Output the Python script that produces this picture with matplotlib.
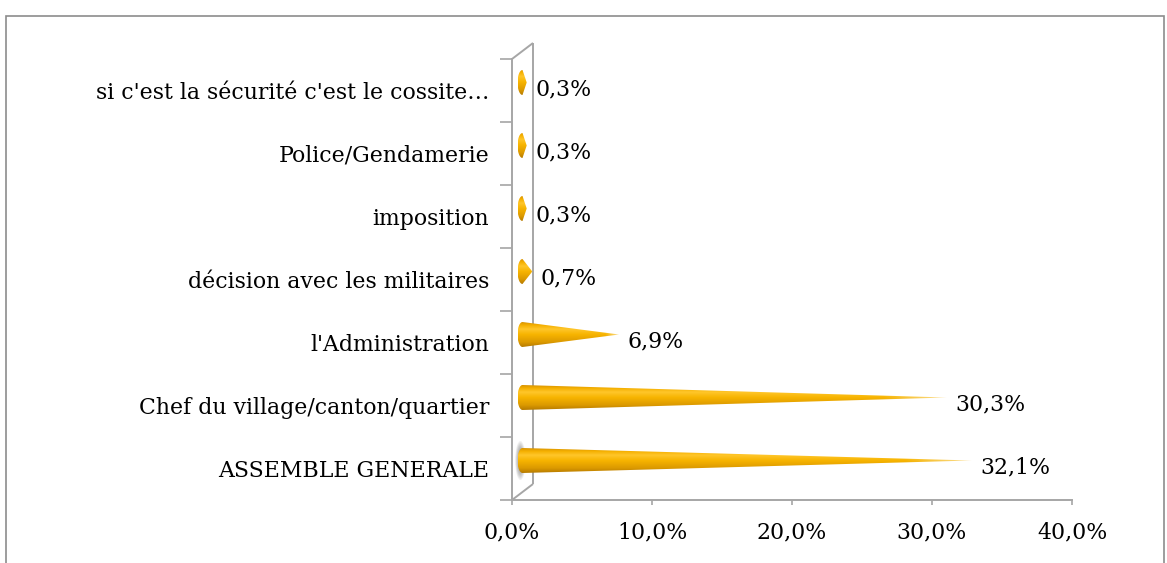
import numpy as np
import matplotlib.pyplot as plt
from matplotlib.patches import Polygon, Rectangle, Ellipse
from matplotlib.colors import LinearSegmentedColormap
from matplotlib.ticker import FuncFormatter, FixedLocator

# données (du bas vers le haut)
categories = ["ASSEMBLE GENERALE",
              "Chef du village/canton/quartier",
              "l'Administration",
              "décision avec les militaires",
              "imposition",
              "Police/Gendamerie",
              "si c'est la sécurité c'est le cossite…"]
values = [32.1, 30.3, 6.9, 0.7, 0.3, 0.3, 0.3]
xticks = [0, 10, 20, 30, 40]

plt.rcParams['font.family'] = ['DejaVu Serif']
W, H = 1167, 563
fig = plt.figure(figsize=(W / 100, H / 100), dpi=100)
ax = fig.add_axes([512 / W, (H - 500) / H, 560 / W, 441 / H])
ax.set_xlim(0, 40)
ax.set_ylim(-0.5, 6.5)

gray = '#a6a6a6'
fs = 15.8

# echelle pixels -> données
sx = 560 / 40.0
sy = 441 / 7.0
dxb, dyb = 21 / sx, 16 / sy      # profondeur du mur
dxm, dym = dxb / 2, dyb / 2      # milieu de la profondeur

for s in ['top', 'right']:
    ax.spines[s].set_visible(False)
for s in ['left', 'bottom']:
    ax.spines[s].set_color(gray)
    ax.spines[s].set_linewidth(1.4)

# mur du fond
kw = dict(color=gray, lw=1.4, clip_on=False, solid_capstyle='butt')
ax.plot([dxb, dxb], [-0.5 + dyb, 6.5 + dyb], **kw)
ax.plot([0, dxb], [6.5, 6.5 + dyb], **kw)
ax.plot([0, dxb], [-0.5, -0.5 + dyb], **kw)

# ombre sous la premiere barre
for k in range(8):
    ax.add_patch(Ellipse((dxm - 0.15, 0 + dym), 0.75 - k * 0.07, 0.62 - k * 0.04,
                         color='#6a6a6a', alpha=0.09, lw=0, clip_on=False))

# cônes
cmap = LinearSegmentedColormap.from_list('gold', [
    (0.0, '#b77c00'), (0.2, '#dc9a00'), (0.5, '#f7b400'),
    (0.72, '#ffc62a'), (0.88, '#f5b000'), (1.0, '#d99400')])
rx, ry = 5 / sx, 12.5 / sy
for i, v in enumerate(values):
    x0, yc = dxm, i + dym
    tip = x0 + v
    t = np.linspace(np.pi / 2, 3 * np.pi / 2, 40)
    pts = [(x0 + rx * np.cos(a), yc + ry * np.sin(a)) for a in t]
    pts.append((tip, yc))
    poly = Polygon(pts, closed=True, fc='none', ec='none', transform=ax.transData)
    ax.add_patch(poly)
    nx, ny = 300, 60
    grad = cmap(np.linspace(0, 1, ny))[:, None, :].repeat(nx, axis=1)
    xs = np.linspace(x0 - rx, tip, nx)
    frac = np.clip((xs - x0) / v, 0, 1)
    alpha = np.where(frac > 0.85, 1 - (frac - 0.85) / 0.15 * 0.6, 1.0)
    grad[:, :, 3] = alpha[None, :]
    im = ax.imshow(grad, extent=[x0 - rx, tip, yc - ry, yc + ry],
                   origin='lower', aspect='auto', interpolation='bilinear',
                   zorder=3)
    im.set_clip_path(poly)

fmt = lambda v: f"{v:.1f}%".replace('.', ',')

# étiquettes de valeurs
for i, v in enumerate(values):
    ax.annotate(fmt(v), (v, i), xytext=(19 * 0.72, 1), textcoords='offset points',
                ha='left', va='center', fontsize=fs, color='black')

# axes
ax.set_yticks(range(len(categories)))
ax.set_yticklabels(categories, fontsize=fs)
ax.yaxis.set_minor_locator(FixedLocator(np.arange(-0.5, 7, 1)))
ax.tick_params(axis='y', which='major', length=0, pad=16.5)
ax.tick_params(axis='y', which='minor', length=8.6, width=1.2, color=gray, direction='out')

ax.set_xticks(xticks)
ax.xaxis.set_major_formatter(FuncFormatter(lambda v, p: fmt(v)))
ax.tick_params(axis='x', length=3.6, width=1.2, color=gray, direction='out',
               labelsize=fs, pad=12)
ax.set_facecolor('none')

# cadre extérieur
fig.patches.append(Rectangle((6 / W, -0.05), 1158 / W, (H - 16) / H + 0.05,
                             transform=fig.transFigure, fill=False,
                             ec='#8c8c8c', lw=1.2))

fig.savefig('out.png', dpi=100)
